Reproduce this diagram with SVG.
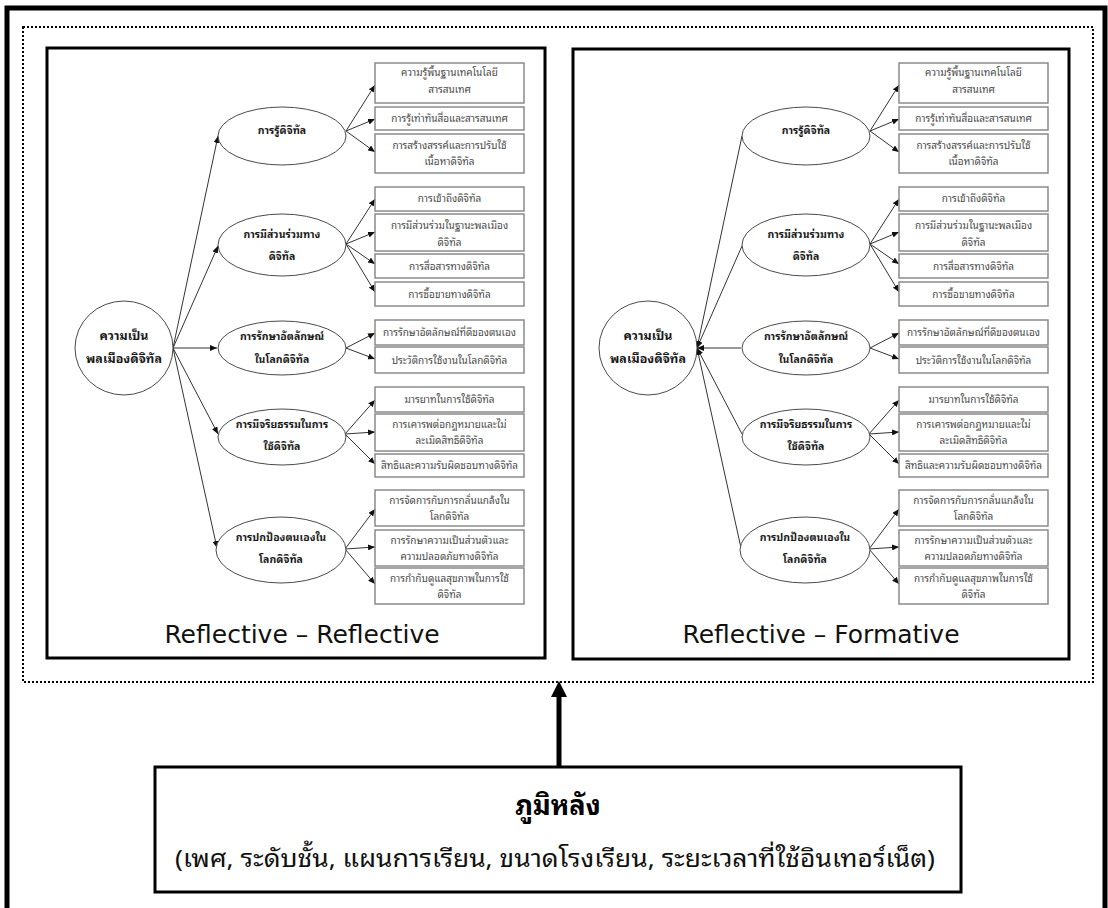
<svg xmlns="http://www.w3.org/2000/svg" width="1108" height="908" viewBox="0 0 1108 908">
  <style>
    .frame { fill: none; stroke: #000; stroke-width: 5; }
    .dotted { fill: none; stroke: #000; stroke-width: 2; stroke-dasharray: 2 2; }
    .panel { fill: #fff; stroke: #000; stroke-width: 3; }
    .box { fill: #fff; stroke: #8a8a8a; stroke-width: 1.5; }
    .ell { fill: #fff; stroke: #4a4a4a; stroke-width: 1; }
    .th { font-family: 'Noto Sans Thai Looped', 'Loma', 'Noto Sans Thai', 'Noto Sans', 'DejaVu Sans', sans-serif; text-anchor: middle; }
    .bt { font-size: 10px; fill: #4a4a4a; }
    .et { font-size: 10.5px; font-weight: bold; fill: #1a1a1a; }
    .rt { font-size: 12.5px; font-weight: bold; fill: #1a1a1a; }
    .title { font-family: 'DejaVu Sans', 'Noto Sans', sans-serif; font-size: 25px; fill: #111; text-anchor: middle; }
    .conn { fill: none; stroke: #333; stroke-width: 1; marker-end: url(#tip); }
    .bg-box { fill: #fff; stroke: #000; stroke-width: 3; }
  </style>
  <defs>
    <marker id="tip" markerUnits="userSpaceOnUse" markerWidth="7" markerHeight="6" viewBox="0 0 7 6" refX="7" refY="3" orient="auto">
      <path d="M0,0 L7,3 L0,6 z" fill="#111"/>
    </marker>
    <marker id="bigHead" markerUnits="userSpaceOnUse" markerWidth="16" markerHeight="16" viewBox="0 0 16 16" refX="1" refY="8" orient="auto">
      <path d="M0,0 L16,8 L0,16 z" fill="#000"/>
    </marker>
  </defs>

  <rect width="1108" height="908" fill="#fff"/>

  <!-- outer frame, open at the bottom edge -->
  <path class="frame" d="M7,908 V8 H1105 V908"/>
  <!-- dotted grouping of the two models -->
  <rect class="dotted" x="23" y="27" width="1070" height="655"/>

  <!-- ===== Model 1: Reflective - Reflective ===== -->
  <g id="panel-rr">
    <rect class="panel" x="47" y="48" width="498" height="610"/>
    <text class="title" x="302" y="643">Reflective – Reflective</text>

    <g id="rr-connectors">
      <line class="conn" x1="173" y1="348" x2="218" y2="136"/>
      <line class="conn" x1="173" y1="348" x2="218" y2="246"/>
      <line class="conn" x1="173" y1="348" x2="217" y2="348"/>
      <line class="conn" x1="173" y1="348" x2="218" y2="434"/>
      <line class="conn" x1="173" y1="348" x2="217" y2="548"/>

      <line class="conn" x1="346" y1="131" x2="375" y2="85"/>
      <line class="conn" x1="346" y1="131" x2="375" y2="119"/>
      <line class="conn" x1="346" y1="131" x2="375" y2="152"/>
      <line class="conn" x1="346" y1="244" x2="375" y2="199"/>
      <line class="conn" x1="346" y1="244" x2="375" y2="232"/>
      <line class="conn" x1="346" y1="244" x2="375" y2="264"/>
      <line class="conn" x1="346" y1="244" x2="375" y2="292"/>
      <line class="conn" x1="346" y1="348" x2="375" y2="333"/>
      <line class="conn" x1="346" y1="348" x2="375" y2="359"/>
      <line class="conn" x1="345" y1="434" x2="375" y2="400"/>
      <line class="conn" x1="345" y1="434" x2="375" y2="432"/>
      <line class="conn" x1="345" y1="434" x2="375" y2="464"/>
      <line class="conn" x1="345" y1="549" x2="375" y2="509"/>
      <line class="conn" x1="345" y1="549" x2="375" y2="547"/>
      <line class="conn" x1="345" y1="549" x2="375" y2="584"/>
    </g>

    <g id="rr-root">
      <ellipse class="ell" cx="124" cy="348" rx="49" ry="47"/>
      <text class="th rt" x="124" y="340">ความเป็น</text>
      <text class="th rt" x="124" y="363">พลเมืองดิจิทัล</text>
    </g>

    <g id="rr-e1"><ellipse class="ell" cx="282" cy="136" rx="64" ry="29"/><text class="th et" x="282" y="134">การรู้ดิจิทัล</text></g>
    <g id="rr-e2"><ellipse class="ell" cx="282" cy="245" rx="64" ry="31"/><text class="th et" x="282" y="238">การมีส่วนร่วมทาง</text><text class="th et" x="282" y="260">ดิจิทัล</text></g>
    <g id="rr-e3"><ellipse class="ell" cx="282" cy="348" rx="64" ry="27"/><text class="th et" x="282" y="340">การรักษาอัตลักษณ์</text><text class="th et" x="282" y="363">ในโลกดิจิทัล</text></g>
    <g id="rr-e4"><ellipse class="ell" cx="282" cy="437" rx="64" ry="28"/><text class="th et" x="282" y="428">การมีจริยธรรมในการ</text><text class="th et" x="282" y="450">ใช้ดิจิทัล</text></g>
    <g id="rr-e5"><ellipse class="ell" cx="281" cy="550" rx="65" ry="33"/><text class="th et" x="281" y="541">การปกป้องตนเองใน</text><text class="th et" x="281" y="563">โลกดิจิทัล</text></g>

    <g id="rr-b1"><rect class="box" x="375" y="63" width="149" height="40"/><text class="th bt" x="449.5" y="76">ความรู้พื้นฐานเทคโนโลยี</text><text class="th bt" x="449.5" y="93">สารสนเทศ</text></g>
    <g id="rr-b2"><rect class="box" x="375" y="107" width="149" height="23"/><text class="th bt" x="449.5" y="122">การรู้เท่าทันสื่อและสารสนเทศ</text></g>
    <g id="rr-b3"><rect class="box" x="375" y="134" width="149" height="39"/><text class="th bt" x="449.5" y="149">การสร้างสรรค์และการปรับใช้</text><text class="th bt" x="449.5" y="165">เนื้อหาดิจิทัล</text></g>
    <g id="rr-b4"><rect class="box" x="375" y="187" width="149" height="24"/><text class="th bt" x="449.5" y="202">การเข้าถึงดิจิทัล</text></g>
    <g id="rr-b5"><rect class="box" x="375" y="214" width="149" height="37"/><text class="th bt" x="449.5" y="229">การมีส่วนร่วมในฐานะพลเมือง</text><text class="th bt" x="449.5" y="246">ดิจิทัล</text></g>
    <g id="rr-b6"><rect class="box" x="375" y="254" width="149" height="24"/><text class="th bt" x="449.5" y="270">การสื่อสารทางดิจิทัล</text></g>
    <g id="rr-b7"><rect class="box" x="375" y="282" width="149" height="24"/><text class="th bt" x="449.5" y="298">การซื้อขายทางดิจิทัล</text></g>
    <g id="rr-b8"><rect class="box" x="375" y="320" width="149" height="25"/><text class="th bt" x="449.5" y="336">การรักษาอัตลักษณ์ที่ดีของตนเอง</text></g>
    <g id="rr-b9"><rect class="box" x="375" y="347" width="149" height="26"/><text class="th bt" x="449.5" y="364">ประวัติการใช้งานในโลกดิจิทัล</text></g>
    <g id="rr-b10"><rect class="box" x="375" y="387" width="149" height="25"/><text class="th bt" x="449.5" y="403">มารยาทในการใช้ดิจิทัล</text></g>
    <g id="rr-b11"><rect class="box" x="375" y="414" width="149" height="37"/><text class="th bt" x="449.5" y="428">การเคารพต่อกฎหมายและไม่</text><text class="th bt" x="449.5" y="444">ละเมิดสิทธิดิจิทัล</text></g>
    <g id="rr-b12"><rect class="box" x="375" y="454" width="149" height="23"/><text class="th bt" x="449.5" y="469">สิทธิและความรับผิดชอบทางดิจิทัล</text></g>
    <g id="rr-b13"><rect class="box" x="375" y="490" width="149" height="36"/><text class="th bt" x="449.5" y="504">การจัดการกับการกลั่นแกล้งใน</text><text class="th bt" x="449.5" y="520">โลกดิจิทัล</text></g>
    <g id="rr-b14"><rect class="box" x="375" y="530" width="149" height="36"/><text class="th bt" x="449.5" y="544">การรักษาความเป็นส่วนตัวและ</text><text class="th bt" x="449.5" y="560">ความปลอดภัยทางดิจิทัล</text></g>
    <g id="rr-b15"><rect class="box" x="375" y="568" width="149" height="36"/><text class="th bt" x="449.5" y="582">การกำกับดูแลสุขภาพในการใช้</text><text class="th bt" x="449.5" y="598">ดิจิทัล</text></g>
  </g>

  <!-- ===== Model 2: Reflective - Formative ===== -->
  <g id="panel-rf">
    <rect class="panel" x="573" y="49" width="496" height="610"/>
    <text class="title" x="821" y="643">Reflective – Formative</text>

    <g transform="translate(524,0)">
      <g id="rf-connectors">
        <!-- formative: first-order dimensions point to the construct -->
        <line class="conn" x1="218" y1="136" x2="173" y2="348"/>
        <line class="conn" x1="218" y1="246" x2="173" y2="348"/>
        <line class="conn" x1="217" y1="348" x2="173" y2="348"/>
        <line class="conn" x1="218" y1="434" x2="173" y2="348"/>
        <line class="conn" x1="217" y1="548" x2="173" y2="348"/>

        <line class="conn" x1="346" y1="131" x2="375" y2="85"/>
        <line class="conn" x1="346" y1="131" x2="375" y2="119"/>
        <line class="conn" x1="346" y1="131" x2="375" y2="152"/>
        <line class="conn" x1="346" y1="244" x2="375" y2="199"/>
        <line class="conn" x1="346" y1="244" x2="375" y2="232"/>
        <line class="conn" x1="346" y1="244" x2="375" y2="264"/>
        <line class="conn" x1="346" y1="244" x2="375" y2="292"/>
        <line class="conn" x1="346" y1="348" x2="375" y2="333"/>
        <line class="conn" x1="346" y1="348" x2="375" y2="359"/>
        <line class="conn" x1="345" y1="434" x2="375" y2="400"/>
        <line class="conn" x1="345" y1="434" x2="375" y2="432"/>
        <line class="conn" x1="345" y1="434" x2="375" y2="464"/>
        <line class="conn" x1="345" y1="549" x2="375" y2="509"/>
        <line class="conn" x1="345" y1="549" x2="375" y2="547"/>
        <line class="conn" x1="345" y1="549" x2="375" y2="584"/>
      </g>

      <g id="rf-root">
        <ellipse class="ell" cx="124" cy="348" rx="49" ry="47"/>
        <text class="th rt" x="124" y="340">ความเป็น</text>
        <text class="th rt" x="124" y="363">พลเมืองดิจิทัล</text>
      </g>

      <g id="rf-e1"><ellipse class="ell" cx="282" cy="136" rx="64" ry="29"/><text class="th et" x="282" y="134">การรู้ดิจิทัล</text></g>
      <g id="rf-e2"><ellipse class="ell" cx="282" cy="245" rx="64" ry="31"/><text class="th et" x="282" y="238">การมีส่วนร่วมทาง</text><text class="th et" x="282" y="260">ดิจิทัล</text></g>
      <g id="rf-e3"><ellipse class="ell" cx="282" cy="348" rx="64" ry="27"/><text class="th et" x="282" y="340">การรักษาอัตลักษณ์</text><text class="th et" x="282" y="363">ในโลกดิจิทัล</text></g>
      <g id="rf-e4"><ellipse class="ell" cx="282" cy="437" rx="64" ry="28"/><text class="th et" x="282" y="428">การมีจริยธรรมในการ</text><text class="th et" x="282" y="450">ใช้ดิจิทัล</text></g>
      <g id="rf-e5"><ellipse class="ell" cx="281" cy="550" rx="65" ry="33"/><text class="th et" x="281" y="541">การปกป้องตนเองใน</text><text class="th et" x="281" y="563">โลกดิจิทัล</text></g>

      <g id="rf-b1"><rect class="box" x="375" y="63" width="149" height="40"/><text class="th bt" x="449.5" y="76">ความรู้พื้นฐานเทคโนโลยี</text><text class="th bt" x="449.5" y="93">สารสนเทศ</text></g>
      <g id="rf-b2"><rect class="box" x="375" y="107" width="149" height="23"/><text class="th bt" x="449.5" y="122">การรู้เท่าทันสื่อและสารสนเทศ</text></g>
      <g id="rf-b3"><rect class="box" x="375" y="134" width="149" height="39"/><text class="th bt" x="449.5" y="149">การสร้างสรรค์และการปรับใช้</text><text class="th bt" x="449.5" y="165">เนื้อหาดิจิทัล</text></g>
      <g id="rf-b4"><rect class="box" x="375" y="187" width="149" height="24"/><text class="th bt" x="449.5" y="202">การเข้าถึงดิจิทัล</text></g>
      <g id="rf-b5"><rect class="box" x="375" y="214" width="149" height="37"/><text class="th bt" x="449.5" y="229">การมีส่วนร่วมในฐานะพลเมือง</text><text class="th bt" x="449.5" y="246">ดิจิทัล</text></g>
      <g id="rf-b6"><rect class="box" x="375" y="254" width="149" height="24"/><text class="th bt" x="449.5" y="270">การสื่อสารทางดิจิทัล</text></g>
      <g id="rf-b7"><rect class="box" x="375" y="282" width="149" height="24"/><text class="th bt" x="449.5" y="298">การซื้อขายทางดิจิทัล</text></g>
      <g id="rf-b8"><rect class="box" x="375" y="320" width="149" height="25"/><text class="th bt" x="449.5" y="336">การรักษาอัตลักษณ์ที่ดีของตนเอง</text></g>
      <g id="rf-b9"><rect class="box" x="375" y="347" width="149" height="26"/><text class="th bt" x="449.5" y="364">ประวัติการใช้งานในโลกดิจิทัล</text></g>
      <g id="rf-b10"><rect class="box" x="375" y="387" width="149" height="25"/><text class="th bt" x="449.5" y="403">มารยาทในการใช้ดิจิทัล</text></g>
      <g id="rf-b11"><rect class="box" x="375" y="414" width="149" height="37"/><text class="th bt" x="449.5" y="428">การเคารพต่อกฎหมายและไม่</text><text class="th bt" x="449.5" y="444">ละเมิดสิทธิดิจิทัล</text></g>
      <g id="rf-b12"><rect class="box" x="375" y="454" width="149" height="23"/><text class="th bt" x="449.5" y="469">สิทธิและความรับผิดชอบทางดิจิทัล</text></g>
      <g id="rf-b13"><rect class="box" x="375" y="490" width="149" height="36"/><text class="th bt" x="449.5" y="504">การจัดการกับการกลั่นแกล้งใน</text><text class="th bt" x="449.5" y="520">โลกดิจิทัล</text></g>
      <g id="rf-b14"><rect class="box" x="375" y="530" width="149" height="36"/><text class="th bt" x="449.5" y="544">การรักษาความเป็นส่วนตัวและ</text><text class="th bt" x="449.5" y="560">ความปลอดภัยทางดิจิทัล</text></g>
      <g id="rf-b15"><rect class="box" x="375" y="568" width="149" height="36"/><text class="th bt" x="449.5" y="582">การกำกับดูแลสุขภาพในการใช้</text><text class="th bt" x="449.5" y="598">ดิจิทัล</text></g>
    </g>
  </g>

  <!-- background variables feeding both models -->
  <g id="main-connector">
    <line x1="559" y1="767" x2="559" y2="696" stroke="#000" stroke-width="5" marker-end="url(#bigHead)"/>
  </g>

  <g id="background">
    <rect class="bg-box" x="155" y="767" width="806" height="125"/>
    <text class="th" x="558" y="815" font-size="27" font-weight="bold" fill="#000">ภูมิหลัง</text>
    <text class="th" x="555" y="867" font-size="24" fill="#111" textLength="760" lengthAdjust="spacingAndGlyphs">(เพศ, ระดับชั้น, แผนการเรียน, ขนาดโรงเรียน, ระยะเวลาที่ใช้อินเทอร์เน็ต)</text>
  </g>
</svg>
